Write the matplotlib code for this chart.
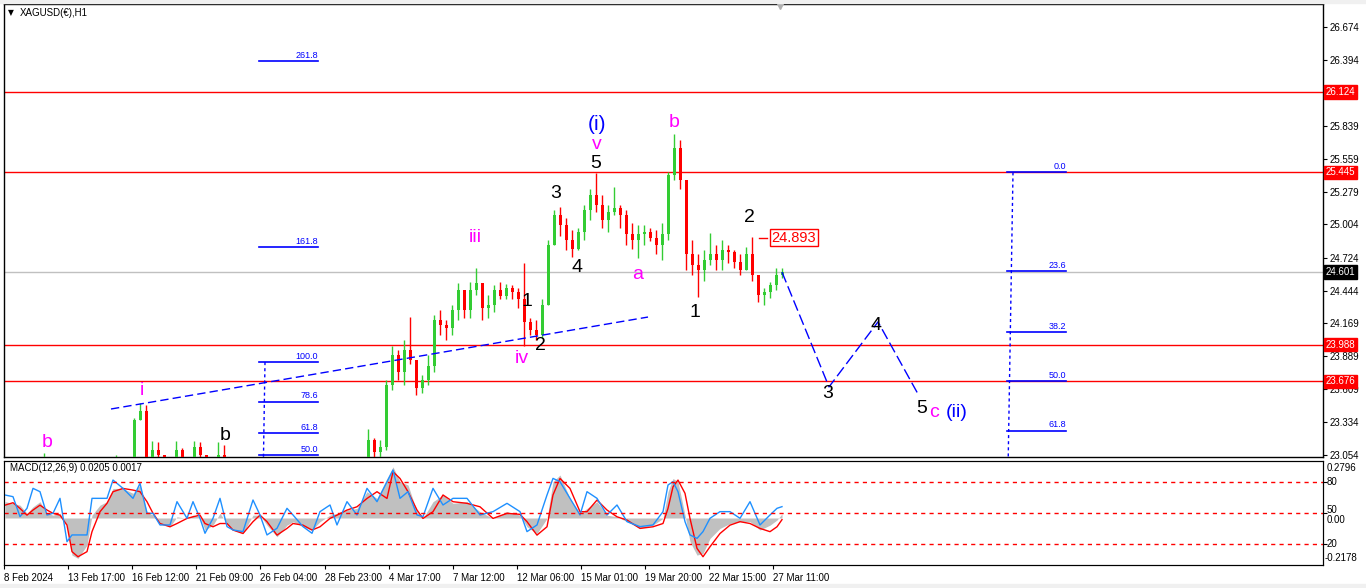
import numpy as np
import matplotlib.pyplot as plt
from matplotlib.transforms import blended_transform_factory
from matplotlib.patches import Rectangle

plt.rcParams['font.family'] = ['Liberation Sans', 'DejaVu Sans']

# ---------------- dados (XAGUSD H1) ----------------
# velas agregadas (cada uma ~6 barras horárias); abertura = fechamento anterior
first_open = 22.97
candle_close = [
    22.95, 22.92, 22.96, 22.90, 22.93, 22.97, 23.00, 22.94, 22.90, 22.85,
    22.78, 22.60, 22.50, 22.55, 22.62, 22.70, 22.78, 22.88, 22.95, 22.92,
    22.96, 23.35, 23.43, 23.04, 23.10, 23.05, 23.00, 22.98, 23.10, 23.03,
    23.00, 23.12, 23.05, 22.98, 22.95, 23.05, 23.00, 22.95, 22.90, 22.88,
    22.92, 22.85, 22.80, 22.86, 22.90, 22.88, 22.83, 22.85, 22.90, 22.92,
    22.88, 22.86, 22.90, 22.94, 22.97, 22.92, 22.95, 22.98, 22.93, 22.96,
    23.18, 23.08, 23.12, 23.65, 23.90, 23.76, 23.94, 23.86, 23.62, 23.69,
    23.81, 24.20, 24.15, 24.13, 24.28, 24.45, 24.28, 24.45, 24.51, 24.30,
    24.32, 24.45, 24.40, 24.47, 24.43, 24.37, 24.18, 24.11, 24.07, 24.32,
    24.83, 25.08, 25.00, 24.87, 24.80, 24.94, 25.13, 25.25, 25.17, 25.04,
    25.11, 25.14, 25.08, 24.92, 24.87, 24.92, 24.94, 24.89, 24.83, 24.92,
    25.42, 25.65, 25.38, 24.75, 24.66, 24.62, 24.70, 24.75, 24.70, 24.79,
    24.77, 24.69, 24.62, 24.75, 24.58, 24.41, 24.43, 24.49, 24.58, 24.601,
]
candle_high = [
    22.99, 22.97, 22.99, 22.97, 22.98, 23.01, 23.07, 23.01, 22.96, 22.92,
    22.88, 22.80, 22.62, 22.62, 22.68, 22.75, 22.83, 22.93, 23.05, 22.99,
    23.01, 23.37, 23.49, 23.48, 23.17, 23.16, 23.03, 23.02, 23.17, 23.11,
    23.04, 23.17, 23.16, 23.04, 23.00, 23.16, 23.14, 23.02, 22.97, 22.93,
    22.95, 22.93, 22.87, 22.90, 22.94, 22.93, 22.90, 22.89, 22.94, 22.96,
    22.94, 22.91, 22.93, 22.97, 23.01, 22.99, 22.98, 23.02, 22.99, 23.00,
    23.27, 23.20, 23.18, 23.69, 23.98, 23.94, 24.03, 24.22, 23.77, 23.73,
    23.90, 24.24, 24.28, 24.20, 24.32, 24.51, 24.45, 24.52, 24.64, 24.49,
    24.41, 24.49, 24.52, 24.50, 24.49, 24.47, 24.68, 24.21, 24.20, 24.37,
    24.87, 25.13, 25.15, 25.06, 24.96, 24.97, 25.17, 25.30, 25.44, 25.25,
    25.17, 25.32, 25.17, 25.13, 25.02, 25.00, 25.00, 24.97, 24.96, 25.02,
    25.45, 25.77, 25.72, 25.34, 24.87, 24.75, 24.79, 24.93, 24.83, 24.87,
    24.83, 24.79, 24.75, 24.81, 24.90, 24.58, 24.47, 24.52, 24.64, 24.64,
]
candle_low = [
    22.90, 22.88, 22.90, 22.86, 22.88, 22.91, 22.95, 22.90, 22.85, 22.80,
    22.75, 22.55, 22.45, 22.47, 22.53, 22.60, 22.68, 22.76, 22.85, 22.87,
    22.88, 22.94, 23.35, 23.00, 23.00, 22.98, 22.94, 22.93, 22.96, 22.99,
    22.95, 22.98, 23.00, 22.94, 22.90, 22.94, 22.96, 22.90, 22.86, 22.84,
    22.86, 22.82, 22.76, 22.78, 22.84, 22.85, 22.80, 22.81, 22.84, 22.87,
    22.84, 22.82, 22.85, 22.88, 22.92, 22.89, 22.90, 22.92, 22.90, 22.91,
    22.94, 23.02, 23.00, 23.10, 23.60, 23.69, 23.65, 23.82, 23.56, 23.58,
    23.65, 23.76, 24.07, 24.03, 24.07, 24.20, 24.21, 24.21, 24.41, 24.20,
    24.21, 24.26, 24.37, 24.37, 24.37, 24.30, 23.98, 24.07, 24.03, 24.04,
    24.32, 24.87, 24.91, 24.79, 24.73, 24.79, 24.87, 25.04, 25.11, 24.97,
    24.94, 25.08, 24.97, 24.83, 24.80, 24.72, 24.83, 24.86, 24.75, 24.70,
    24.87, 25.38, 25.30, 24.62, 24.58, 24.39, 24.53, 24.66, 24.62, 24.62,
    24.68, 24.64, 24.58, 24.62, 24.53, 24.35, 24.32, 24.38, 24.45, 24.55,
]

# linhas horizontais
red_levels = [26.124, 25.445, 23.988, 23.676]
current_price = 24.601
price_ticks = [26.674, 26.394, 25.839, 25.559, 25.279, 25.004, 24.724,
               24.444, 24.169, 23.889, 23.609, 23.334, 23.054]

# fibonacci (esquerda: extensão, direita: retração)
fib_left_0, fib_left_100 = 22.266, 23.840
fib_left_levels = [50.0, 61.8, 78.6, 100.0, 161.8, 261.8]
fib_right_0, fib_right_100 = 25.445, 21.907
fib_right_levels = [0.0, 23.6, 38.2, 50.0, 61.8]

# linha de tendência e projeção
trend_bar = [111, 648]
trend_price = [23.443, 24.221]
proj_bar = [782, 829, 878, 918]
proj_price = [24.601, 23.63, 24.18, 23.57]
tag_price = 24.893

# rótulos das ondas: texto, barra, preço, cor, tamanho
wave_labels = [
    ("b", 47, 23.16, "#ff00ff", 14), ("i", 142, 23.60, "#ff00ff", 14),
    ("b", 225, 23.22, "black", 14), ("iii", 475, 24.89, "#ff00ff", 14),
    ("1", 527, 24.35, "black", 14), ("iv", 522, 23.87, "#ff00ff", 14),
    ("2", 540, 23.98, "black", 14), ("3", 556, 25.27, "black", 14),
    ("4", 577, 24.64, "black", 14), ("5", 596, 25.52, "black", 14),
    ("v", 597, 25.68, "#ff00ff", 14), ("(i)", 597, 25.85, "#0000ff", 15),
    ("a", 638, 24.58, "#ff00ff", 14), ("b", 674, 25.87, "#ff00ff", 14),
    ("1", 695, 24.26, "black", 14), ("2", 749, 25.06, "black", 14),
    ("3", 828, 23.57, "black", 14), ("4", 876, 24.15, "black", 14),
    ("5", 922, 23.45, "black", 14), ("c", 934, 23.41, "#ff00ff", 14),
    ("(ii)", 957, 23.41, "#0000ff", 14),
]

# MACD(12,26,9) + oscilador azul (0-100)
osc_bar = [
    5, 13, 20, 27, 33, 40, 47, 53, 60, 67,
    72, 78, 87, 92, 100, 107, 113, 123, 133, 140,
    147, 153, 160, 170, 177, 187, 193, 200, 205, 213,
    220, 227, 233, 243, 253, 260, 267, 277, 287, 293,
    303, 312, 320, 330, 337, 347, 357, 367, 377, 387,
    393, 400, 408, 417, 423, 433, 443, 453, 467, 480,
    493, 507, 520, 527, 537, 547, 553, 560, 570, 580,
    587, 597, 607, 617, 627, 640, 653, 663, 668, 673,
    678, 685, 690, 697, 703, 710, 720, 730, 740, 750,
    760, 770, 777, 782,
]
macd_hist = [
    0.080, 0.072, 0.063, 0.023, 0.055, 0.080, 0.023, 0.014, 0.023, -0.035,
    -0.182, -0.198, -0.133, 0.014, 0.063, 0.080, 0.145, 0.145, 0.121, 0.162,
    0.031, 0.014, -0.027, -0.043, 0.006, -0.002, 0.014, 0.006, -0.059, -0.035,
    0.023, -0.027, -0.059, -0.076, 0.014, 0.014, -0.035, -0.092, -0.035, -0.018,
    -0.043, -0.059, -0.018, 0.014, 0.023, 0.039, 0.047, 0.129, 0.096, 0.194,
    0.251, 0.178, 0.162, 0.031, -0.002, 0.080, 0.113, 0.072, 0.080, 0.031,
    -0.002, 0.031, 0.014, -0.043, -0.076, -0.002, 0.178, 0.211, 0.096, 0.023,
    0.047, 0.080, 0.014, 0.006, -0.018, -0.051, -0.035, -0.002, 0.129, 0.194,
    0.178, 0.014, -0.116, -0.182, -0.174, -0.100, -0.051, -0.027, -0.018, -0.018,
    -0.059, -0.035, -0.010, 0.0205,
]
macd_signal = [
    0.063, 0.075, 0.047, 0.014, 0.039, 0.063, 0.039, 0.023, 0.014, -0.035,
    -0.165, -0.190, -0.165, -0.067, 0.031, 0.072, 0.129, 0.145, 0.137, 0.129,
    0.080, 0.023, -0.027, -0.043, -0.027, -0.002, 0.006, 0.014, -0.027, -0.043,
    -0.027, -0.027, -0.059, -0.076, -0.018, 0.014, -0.018, -0.084, -0.051, -0.027,
    -0.035, -0.059, -0.043, -0.002, 0.014, 0.039, 0.055, 0.096, 0.129, 0.096,
    0.227, 0.194, 0.129, 0.039, -0.002, 0.031, 0.113, 0.080, 0.072, 0.055,
    -0.002, 0.023, 0.018, -0.018, -0.084, -0.043, 0.113, 0.194, 0.145, 0.031,
    0.031, 0.088, 0.039, 0.006, -0.010, -0.051, -0.043, -0.027, 0.047, 0.153,
    0.186, 0.121, -0.002, -0.149, -0.190, -0.141, -0.076, -0.035, -0.018, -0.027,
    -0.051, -0.067, -0.043, -0.008,
]
osc_blue = [
    67.3, 65.7, 46.5, 54.5, 73.7, 70.5, 48.1, 49.7, 64.1, 22.4,
    28.9, 28.9, 28.9, 64.1, 64.1, 64.1, 81.7, 73.7, 64.1, 78.5,
    49.7, 49.7, 38.5, 38.5, 60.9, 44.9, 60.9, 44.9, 30.5, 44.9,
    64.1, 36.9, 33.7, 32.1, 62.5, 48.1, 28.9, 35.3, 54.5, 48.1,
    36.9, 30.5, 51.3, 57.7, 38.5, 60.9, 48.1, 73.7, 60.9, 80.1,
    91.3, 64.1, 70.5, 48.1, 46.5, 73.7, 57.7, 64.1, 64.1, 48.1,
    51.3, 59.3, 51.3, 32.1, 38.5, 67.3, 83.3, 80.1, 64.1, 48.1,
    70.5, 64.1, 48.1, 57.7, 41.7, 36.9, 38.5, 51.3, 76.9, 80.1,
    70.5, 41.7, 28.9, 25.6, 32.1, 44.9, 51.3, 51.3, 44.9, 60.9,
    38.5, 48.1, 54.5, 56.1,
]
osc_levels = [20, 50, 80]

date_bar = [4, 68, 132, 196, 260, 325, 389, 453, 517, 581, 645, 709, 773]
date_labels = ["8 Feb 2024", "13 Feb 17:00", "16 Feb 12:00", "21 Feb 09:00",
               "26 Feb 04:00", "28 Feb 23:00", "4 Mar 17:00", "7 Mar 12:00",
               "12 Mar 06:00", "15 Mar 01:00", "19 Mar 20:00", "22 Mar 15:00",
               "27 Mar 11:00"]

# ---------------- figura ----------------
W, H = 1366, 588
fig = plt.figure(figsize=(W / 100, H / 100), dpi=100)

def fx(px):
    return px / W

def fy(py):
    return 1 - py / H

fig.patches.append(Rectangle((0, fy(3)), 1, 3 / H, transform=fig.transFigure,
                             color="#f0f0f0", zorder=0))
fig.patches.append(Rectangle((0, 0), 1, 4 / H, transform=fig.transFigure,
                             color="#f0f0f0", zorder=0))

ax = fig.add_axes([fx(4), fy(457), fx(1323) - fx(4), fy(4) - fy(457)])
axm = fig.add_axes([fx(4), fy(565), fx(1323) - fx(4), fy(461) - fy(565)])
axb = axm.twinx()

GREEN = "#33cc33"
RED = "#ff0000"

# velas
close = np.array(candle_close)
opens = np.concatenate([[first_open], close[:-1]])
high = np.maximum(np.array(candle_high), np.maximum(opens, close))
low = np.minimum(np.array(candle_low), np.minimum(opens, close))
bar_x = 8 + 6 * np.arange(len(close))
cols = [GREEN if c >= o else RED for o, c in zip(opens, close)]
ax.vlines(bar_x, low, high, colors=cols, lw=1, zorder=3)
ax.bar(bar_x, np.maximum(np.abs(close - opens), 0.008), bottom=np.minimum(opens, close),
       width=3.0, color=cols, lw=0, zorder=3)

# linhas horizontais
for lv in red_levels:
    ax.axhline(lv, color=RED, lw=1, zorder=2)
ax.axhline(current_price, color="#c0c0c0", lw=1, zorder=1)

# fibonacci
for lev in fib_left_levels:
    p = fib_left_0 + (fib_left_100 - fib_left_0) * lev / 100
    ax.plot([259, 318], [p, p], color="#0000ff", lw=1.2, zorder=4)
    ax.text(318, p + 0.012, f"{lev:.1f}", color="#0000ff", fontsize=6.5,
            ha="right", va="bottom", zorder=4)
ax.plot([265, 262], [fib_left_100, fib_left_0], color="#0000ff", lw=1,
        ls=(0, (2.2, 2.2)), zorder=4)

for lev in fib_right_levels:
    p = fib_right_0 + (fib_right_100 - fib_right_0) * lev / 100
    ax.plot([1007, 1066], [p, p], color="#0000ff", lw=1.2, zorder=4)
    ax.text(1066, p + 0.012, f"{lev:.1f}", color="#0000ff", fontsize=6.5,
            ha="right", va="bottom", zorder=4)
ax.plot([1013, 1006], [fib_right_0, fib_right_100], color="#0000ff", lw=1,
        ls=(0, (2.2, 2.2)), zorder=4)

# tendência e projeção
ax.plot(trend_bar, trend_price, color="#0000ff", lw=1, ls=(0, (6, 3)), zorder=4)
ax.plot(proj_bar, proj_price, color="#0000ff", lw=1, ls=(0, (8, 3)), zorder=4)

# marcador de preço 24.893
ax.plot([759, 767], [tag_price, tag_price], color=RED, lw=1, zorder=5)
ax.text(794, tag_price, f"{tag_price:.3f}", color=RED, fontsize=10.5,
        ha="center", va="center", zorder=5,
        bbox=dict(boxstyle="square,pad=0.12", fc="white", ec=RED, lw=1))

# rótulos das ondas
for txt, bx, py, col, fs in wave_labels:
    ax.text(bx, py, txt, color=col, fontsize=fs, ha="center", va="center", zorder=6)

# eixos do preço
ax.set_xlim(4, 1323)
ax.set_ylim(23.037, 26.869)
ax.set_xticks([])
ax.yaxis.tick_right()
ax.set_yticks(price_ticks)
ax.set_yticklabels([f"{t:.3f}" for t in price_ticks])
ax.tick_params(axis="y", length=3, pad=1.5, labelsize=7, width=0.8)
for s in ax.spines.values():
    s.set_linewidth(1)

tr = blended_transform_factory(ax.transAxes, ax.transData)
for lv in red_levels:
    ax.text(1.0018, lv, f"{lv:.3f}", transform=tr, color="white", fontsize=7,
            ha="left", va="center", clip_on=False, zorder=7,
            bbox=dict(boxstyle="square,pad=0.18", fc=RED, ec=RED))
ax.text(1.0018, current_price, f"{current_price:.3f}", transform=tr, color="white",
        fontsize=7, ha="left", va="center", clip_on=False, zorder=7,
        bbox=dict(boxstyle="square,pad=0.18", fc="black", ec="black"))

ax.plot([780], [26.86], marker="v", color="#b0b0b0", ms=6, clip_on=False, zorder=8)

# painel MACD
axm.fill_between(osc_bar, 0, macd_hist, color="#c0c0c0", lw=0, zorder=1)
axm.plot(osc_bar, macd_signal, color=RED, lw=1, zorder=3)
axm.set_xlim(4, 1323)
axm.set_ylim(-0.2305, 0.2796)
axm.set_yticks([])

axb.plot(osc_bar, osc_blue, color="#1e90ff", lw=1, zorder=2)
for lv in osc_levels:
    axb.axhline(lv, color=RED, lw=1, ls=(0, (3, 3)))
axb.set_ylim(0, 100)
axb.set_xlim(4, 1323)
axb.set_yticks(osc_levels)
axb.set_yticklabels([])
axb.tick_params(axis="y", length=3, width=0.8)

axm.set_xticks(date_bar)
axm.set_xticklabels(date_labels, fontsize=7)
for lbl in axm.get_xticklabels():
    lbl.set_ha("left")
axm.tick_params(axis="x", length=3, pad=3, width=0.8)

for txt, py in [("0.2796", 468), ("80", 482), ("50", 510), ("0.00", 520),
                ("20", 544), ("-0.2178", 558)]:
    fig.text(fx(1327) if not txt.startswith("-") else fx(1325), fy(py), txt,
             fontsize=7, ha="left", va="center")

# cabeçalhos
fig.text(fx(8), fy(13), "▼", fontsize=5.5, ha="left", va="center", family="DejaVu Sans")
fig.text(fx(20), fy(13), "XAGUSD(€),H1", fontsize=7, ha="left", va="center")
fig.text(fx(10), fy(468), "MACD(12,26,9) 0.0205 0.0017", fontsize=7, ha="left", va="center")

fig.savefig("out.png", dpi=100)
